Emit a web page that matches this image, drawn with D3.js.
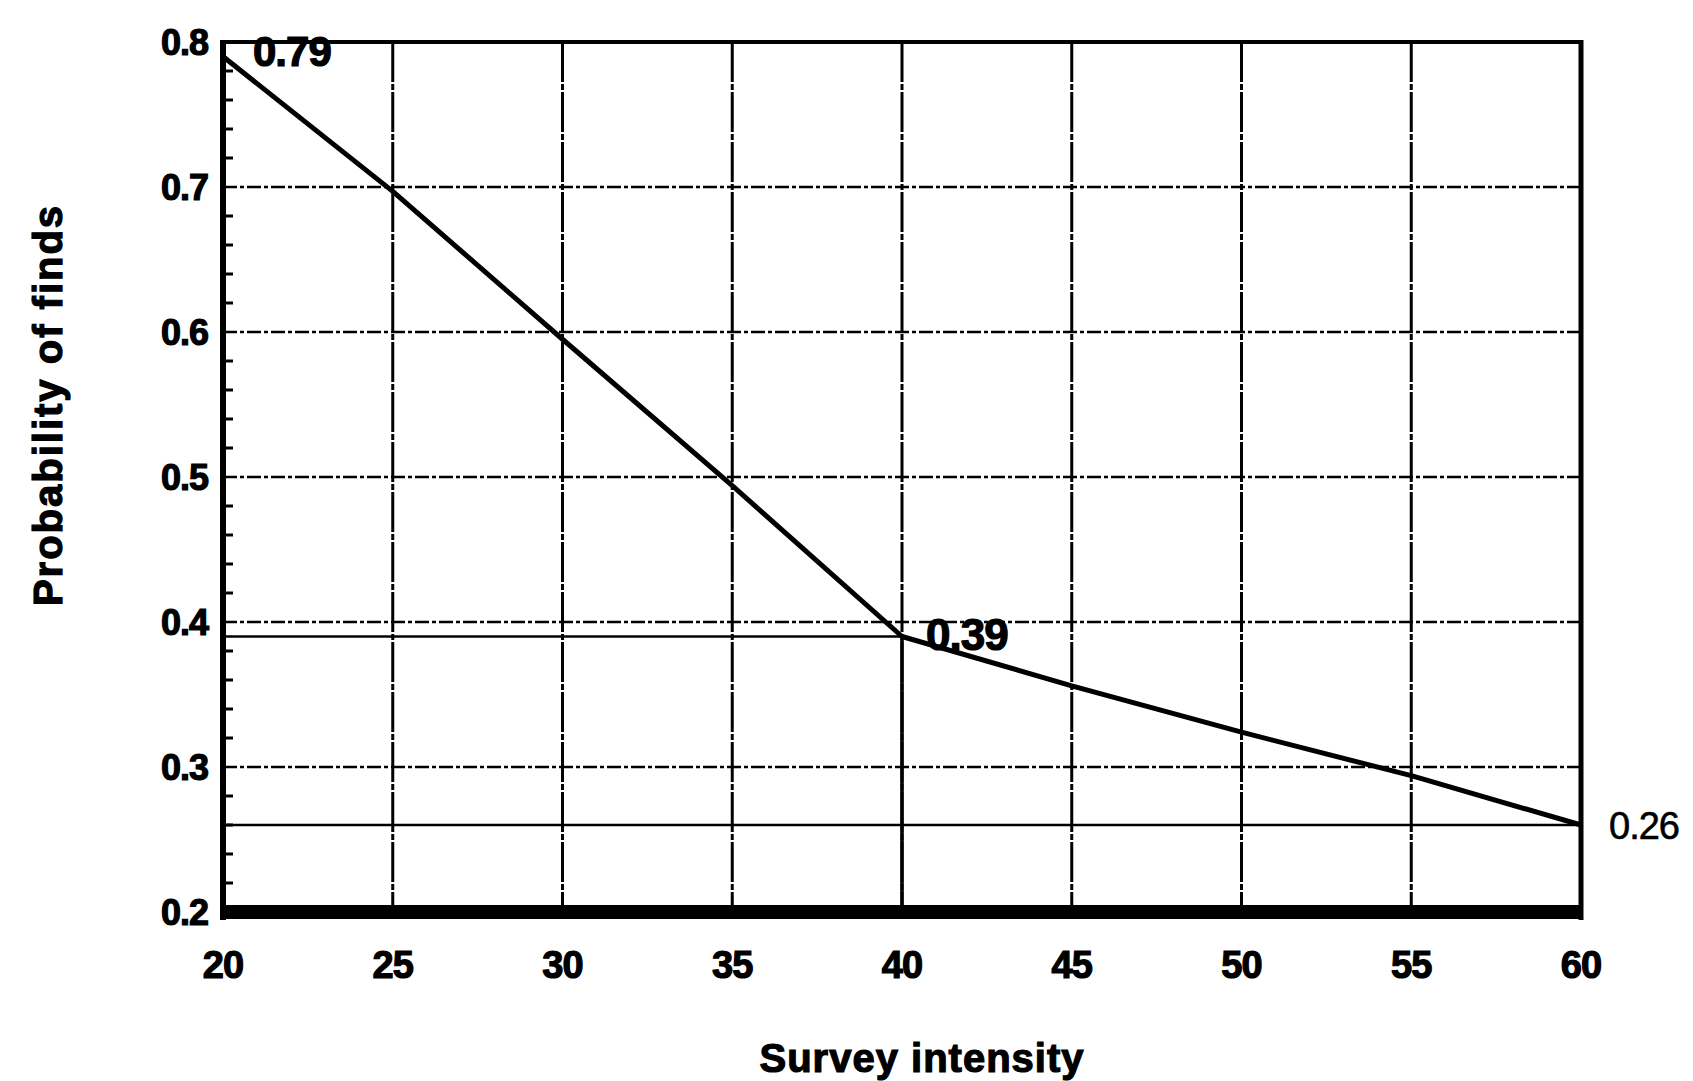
<!DOCTYPE html>
<html>
<head>
<meta charset="utf-8">
<script src="https://cdn.jsdelivr.net/npm/d3@7"></script>
<style>
  body { margin: 0; background: #fff; }
  text { font-family: "Liberation Sans", Arial, sans-serif; font-weight: bold; fill: #000; stroke: #000; stroke-width: 1.2; }
</style>
</head>
<body>
<svg id="chart" width="1693" height="1081"></svg>
<script>
// data
const intensity = [20, 25, 30, 35, 40, 45, 50, 55, 60]
const probability = [0.79, 0.697, 0.595, 0.494, 0.39, 0.356, 0.324, 0.294, 0.26]
const xTicks = [20, 25, 30, 35, 40, 45, 50, 55, 60]
const yTicks = [0.2, 0.3, 0.4, 0.5, 0.6, 0.7, 0.8]
const refLines = [ { x: 40, y: 0.39, label: '0.39' }, { x: 60, y: 0.26, label: '0.26' } ]

const svg = d3.select('#chart')
const x = d3.scaleLinear().domain([20, 60]).range([223, 1581])
const y = d3.scaleLinear().domain([0.2, 0.8]).range([912, 42])

const fmt = d => d3.format('.1f')(d)

// horizontal grid (dash-dot)
svg.append('g').selectAll('line')
  .data(yTicks.filter(d => d > 0.2 && d < 0.8))
  .enter().append('line')
  .attr('x1', x(20)).attr('x2', x(60))
  .attr('y1', d => y(d)).attr('y2', d => y(d))
  .attr('stroke', '#000').attr('stroke-width', 2.5)
  .attr('stroke-dasharray', '14,3,4,3')

// vertical grid
svg.append('g').selectAll('line')
  .data(xTicks.filter(d => d > 20 && d < 60))
  .enter().append('line')
  .attr('x1', d => x(d)).attr('x2', d => x(d))
  .attr('y1', y(0.8)).attr('y2', y(0.2))
  .attr('stroke', '#000').attr('stroke-width', 3)
  .attr('stroke-dasharray', '40,2,6,2')

// minor ticks on the left axis
const minor = d3.range(0.22, 0.8, 0.02).filter(d => Math.abs(d * 10 - Math.round(d * 10)) > 0.01)
svg.append('g').selectAll('line')
  .data(minor)
  .enter().append('line')
  .attr('x1', x(20)).attr('x2', x(20) + 10)
  .attr('y1', d => y(d)).attr('y2', d => y(d))
  .attr('stroke', '#000').attr('stroke-width', 3)

// reference lines
refLines.forEach(r => {
  svg.append('line')
    .attr('x1', x(20)).attr('x2', x(r.x))
    .attr('y1', y(r.y)).attr('y2', y(r.y))
    .attr('stroke', '#000').attr('stroke-width', 2.5)
  svg.append('line')
    .attr('x1', x(r.x)).attr('x2', x(r.x))
    .attr('y1', y(r.y)).attr('y2', y(0.2))
    .attr('stroke', '#000').attr('stroke-width', 3.5)
})

// frame
svg.append('line').attr('x1', x(20)).attr('x2', x(60)).attr('y1', y(0.8)).attr('y2', y(0.8))
  .attr('stroke', '#000').attr('stroke-width', 4)
svg.append('line').attr('x1', x(20)).attr('x2', x(20)).attr('y1', y(0.8) - 2).attr('y2', y(0.2) + 8)
  .attr('stroke', '#000').attr('stroke-width', 6)
svg.append('line').attr('x1', x(60)).attr('x2', x(60)).attr('y1', y(0.8) - 2).attr('y2', y(0.2) + 8)
  .attr('stroke', '#000').attr('stroke-width', 5)
svg.append('line').attr('x1', x(20) - 3).attr('x2', x(60) + 2).attr('y1', y(0.2)).attr('y2', y(0.2))
  .attr('stroke', '#000').attr('stroke-width', 14)

// data line
const line = d3.line().x((d, i) => x(intensity[i])).y(d => y(d))
svg.append('path')
  .datum(probability)
  .attr('d', line)
  .attr('fill', 'none')
  .attr('stroke', '#000')
  .attr('stroke-width', 5)
  .attr('stroke-linejoin', 'round')

// tick labels
svg.append('g').selectAll('text')
  .data(xTicks)
  .enter().append('text')
  .attr('x', d => x(d)).attr('y', 978)
  .attr('text-anchor', 'middle')
  .attr('font-size', 38).attr('letter-spacing', -1)
  .text(d => d)

svg.append('g').selectAll('text')
  .data(yTicks)
  .enter().append('text')
  .attr('x', 208).attr('y', d => y(d) + 13)
  .attr('text-anchor', 'end')
  .attr('font-size', 36).attr('letter-spacing', -1)
  .text(fmt)

// value labels
svg.append('text').attr('x', x(20) + 30).attr('y', y(0.8) + 24)
  .attr('font-size', 42).attr('letter-spacing', -1).text('0.79')
svg.append('text').attr('x', x(40) + 24).attr('y', y(0.39) + 13)
  .attr('font-size', 44).attr('letter-spacing', -1).text(refLines[0].label)
svg.append('text').attr('x', x(60) + 28).attr('y', y(0.26) + 14)
  .attr('font-size', 38).attr('letter-spacing', -1)
  .style('font-weight', 'normal').style('stroke-width', 0.6).text(refLines[1].label)

// axis titles
svg.append('text').attr('x', 922).attr('y', 1072)
  .attr('text-anchor', 'middle').attr('font-size', 40).attr('letter-spacing', 1)
  .text('Survey intensity')
svg.append('text')
  .attr('transform', 'translate(62, 405) rotate(-90)')
  .attr('text-anchor', 'middle').attr('font-size', 40).attr('letter-spacing', 2)
  .text('Probability of finds')
</script>
</body>
</html>
